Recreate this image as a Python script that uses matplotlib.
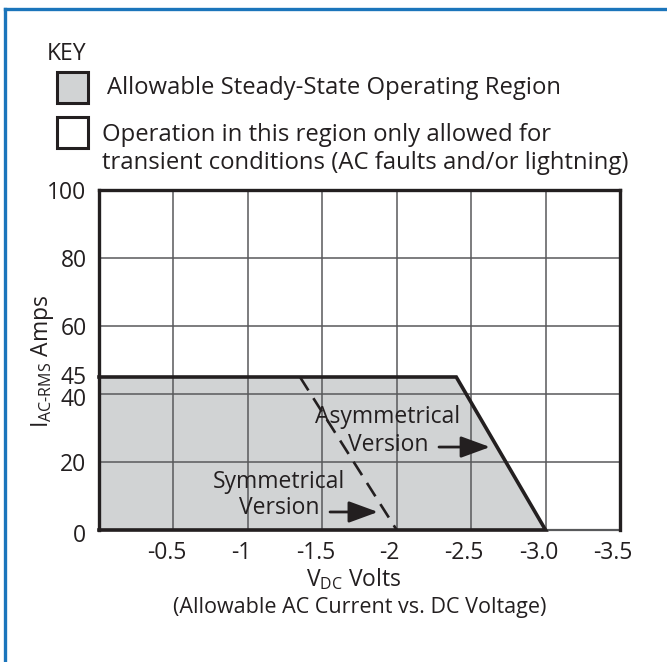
import matplotlib
matplotlib.use("Agg")
import matplotlib.pyplot as plt
from matplotlib.patches import Rectangle
from matplotlib.lines import Line2D
import matplotlib.transforms as mtransforms

plt.rcParams['font.family'] = ['Open Sans', 'DejaVu Sans']
plt.rcParams['mathtext.fontset'] = 'custom'
plt.rcParams['mathtext.rm'] = 'Open Sans'
plt.rcParams['mathtext.it'] = 'Open Sans:italic'
plt.rcParams['axes.unicode_minus'] = False

# data
asym_volts = [0, -2.4, -3.0]      # steady-state boundary (asymmetrical version)
asym_amps = [45, 45, 0]
sym_volts = [-1.35, -2.0]         # symmetrical version (dashed)
sym_amps = [45, 0]

x_ticks = [-0.5, -1, -1.5, -2, -2.5, -3.0, -3.5]
x_labels = ['-0.5', '-1', '-1.5', '-2', '-2.5', '-3.0', '-3.5']
y_ticks = [0, 20, 40, 60, 80, 100]
y_extra = [45]

fill_col = '#d1d3d4'
ink = '#231f20'
fs = 16.5      # ticks, labels, annotations
fs_key = 17.2  # key texts

W, H = 667, 662
fig = plt.figure(figsize=(W / 100, H / 100), dpi=100)


def fx(x):
    return x / W


def fy(y):
    return 1 - y / H


ax = fig.add_axes([fx(99), fy(530), fx(620) - fx(99), fy(190) - fy(530)])
ax.set_xlim(0, -3.5)
ax.set_ylim(0, 100)

ax.fill_between(asym_volts, asym_amps, 0, color=fill_col, lw=0, zorder=1)
ax.set_xticks(x_ticks)
ax.set_xticklabels(x_labels, fontsize=fs)
ax.set_yticks(y_ticks)
ax.set_yticklabels([str(v) for v in y_ticks], fontsize=fs)
ax.set_yticks(y_extra, minor=True)
ax.set_yticklabels([str(v) for v in y_extra], minor=True, fontsize=fs)
ax.tick_params(which='both', length=0, pad=8, colors=ink)
ax.tick_params(axis='y', which='both', pad=9)
ax.grid(True, which='major', color='#58595b', lw=1.1, zorder=2)
ax.set_axisbelow(False)

# shift the x tick labels a touch left, like the original
off = mtransforms.ScaledTranslation(-7 / 100, 0, fig.dpi_scale_trans)
for lab in ax.get_xticklabels():
    lab.set_transform(lab.get_transform() + off)
# keep 40 and 45 from sitting on each other, 0 sits a bit low
down = mtransforms.ScaledTranslation(0, -3 / 100, fig.dpi_scale_trans)
up = mtransforms.ScaledTranslation(0, 2 / 100, fig.dpi_scale_trans)
for lab in ax.get_yticklabels():
    if lab.get_text() in ('0', '40'):
        lab.set_transform(lab.get_transform() + down)
for lab in ax.get_yticklabels(minor=True):
    lab.set_transform(lab.get_transform() + up)

for s in ['left', 'top', 'right']:
    ax.spines[s].set_linewidth(2.4)
    ax.spines[s].set_color(ink)
    ax.spines[s].set_zorder(5)
ax.spines['bottom'].set_linewidth(1.6)
ax.spines['bottom'].set_color('#58595b')

ax.plot(asym_volts + [0], asym_amps + [0], color=ink, lw=2.6,
        solid_joinstyle='miter', zorder=4, clip_on=False)
ax.plot(sym_volts, sym_amps, color=ink, lw=1.9, ls=(0, (6, 3.5)), zorder=4)

ax.text(-1.94, 29.1, 'Asymmetrical\nVersion', ha='center', va='center',
        fontsize=fs, color=ink, linespacing=1.2, zorder=6)
ax.text(-1.21, 10.3, 'Symmetrical\nVersion', ha='center', va='center',
        fontsize=fs, color=ink, linespacing=1.1, zorder=6)
arrow = dict(arrowstyle='-|>,head_length=0.9,head_width=0.33', color=ink,
             lw=2, shrinkA=0, shrinkB=0, mutation_scale=20)
ax.annotate('', xy=(-2.627, 24.4), xytext=(-2.284, 24.4), arrowprops=arrow, zorder=6)
ax.annotate('', xy=(-1.874, 5.3), xytext=(-1.552, 5.3), arrowprops=arrow, zorder=6)

fig.text(fx(354), fy(579), r'V$_{\mathregular{DC}}$ Volts', ha='center',
         va='center', fontsize=fs, color=ink)
fig.text(fx(360), fy(608), '(Allowable AC Current vs. DC Voltage)',
         ha='center', va='center', fontsize=15.5, color=ink)
fig.text(fx(42), fy(361), r'I$_{\mathregular{AC\text{-}RMS}}$ Amps', rotation=90,
         ha='center', va='center', fontsize=fs, color=ink)

# key
fig.text(fx(47), fy(54), 'KEY', ha='left', va='center', fontsize=fs, color=ink)
fig.add_artist(Rectangle((fx(57), fy(103)), fx(88) - fx(57), fy(72) - fy(103),
                         transform=fig.transFigure, facecolor=fill_col,
                         edgecolor=ink, lw=2.2))
fig.add_artist(Rectangle((fx(57), fy(148)), fx(88) - fx(57), fy(117) - fy(148),
                         transform=fig.transFigure, facecolor='white',
                         edgecolor=ink, lw=2.2))
fig.text(fx(107), fy(88), 'Allowable Steady-State Operating Region',
         ha='left', va='center', fontsize=fs_key, color=ink)
fig.text(fx(102), fy(149), 'Operation in this region only allowed for\n'
         'transient conditions (AC faults and/or lightning)',
         ha='left', va='center', fontsize=fs_key, color=ink, linespacing=1.27)

# blue frame (only top and left edges are visible)
blue = '#1b75bb'
fig.add_artist(Line2D([fx(4.5), 1], [fy(8.5), fy(8.5)], color=blue, lw=2.4,
                      transform=fig.transFigure))
fig.add_artist(Line2D([fx(4.5), fx(4.5)], [fy(8.5), 0], color=blue, lw=2.4,
                      transform=fig.transFigure))

fig.savefig('out.png', dpi=100)
